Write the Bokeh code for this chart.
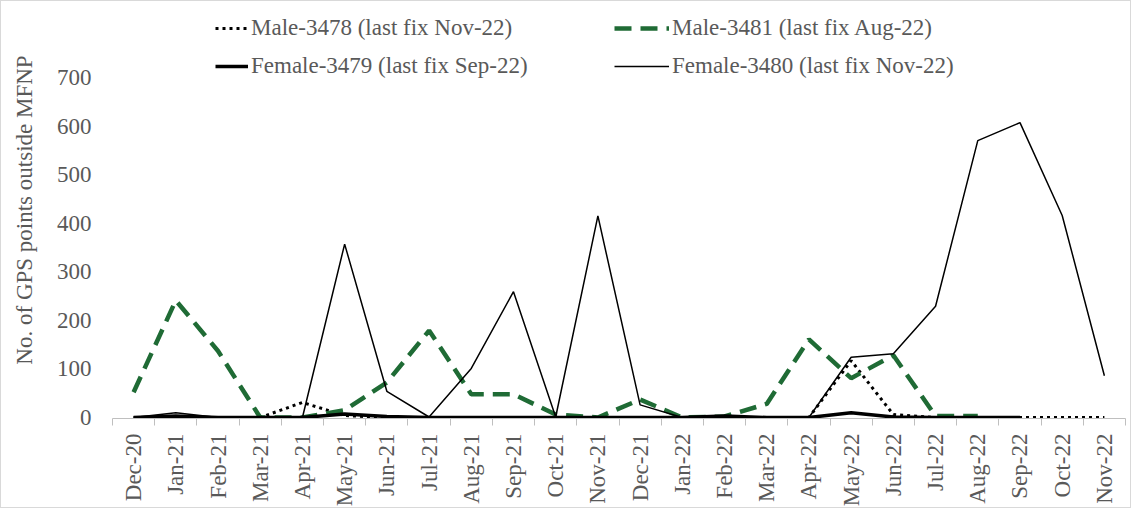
import math
from bokeh.plotting import figure
from bokeh.models import FixedTicker, Legend, LegendItem, Range1d
from bokeh.embed import file_html
from bokeh.resources import INLINE

months = ["Dec-20", "Jan-21", "Feb-21", "Mar-21", "Apr-21", "May-21", "Jun-21", "Jul-21",
          "Aug-21", "Sep-21", "Oct-21", "Nov-21", "Dec-21", "Jan-22", "Feb-22", "Mar-22",
          "Apr-22", "May-22", "Jun-22", "Jul-22", "Aug-22", "Sep-22", "Oct-22", "Nov-22"]

nan = float("nan")
male_3478 = [0, 0, 0, 0, 31, 4, 0, 0, 0, 0, 0, 0, 0, 0, 0, 0, 0, 117, 6, 0, 0, 0, 0, 0]
male_3481 = [52, 241, 137, 0, 0, 15, 72, 179, 48, 48, 6, 0, 37, 0, 2, 28, 161, 81, 128, 3, 3,
             nan, nan, nan]
female_3479 = [0, 3, 0, 0, 0, 7, 2, 0, 0, 0, 0, 0, 0, 0, 3, 0, 0, 10, 1, 0, 0, 0, nan, nan]
female_3480 = [0, 10, 0, 0, 0, 357, 54, 1, 101, 259, 1, 415, 26, 0, 2, 0, 0, 124, 131, 229, 570,
               607, 416, 86]

series_labels = ["Male-3478 (last fix Nov-22)", "Male-3481 (last fix Aug-22)",
                 "Female-3479 (last fix Sep-22)", "Female-3480 (last fix Nov-22)"]
y_ticks = [0, 100, 200, 300, 400, 500, 600, 700]
y_title = "No. of GPS points outside MFNP"

FONT = "Liberation Serif"
GRAY = "#595959"
GREEN = "#1f6b35"

W, H = 1131, 508
FRAME_L, FRAME_R_PAD = 111, 7
ZERO_Y, TOP_Y = 416, 76          # pixel rows of 0 and 700 inside the figure
frame_bottom = ZERO_Y + 1
ppu = (ZERO_Y - TOP_Y) / 700.0

x = list(range(len(months)))

p = figure(width=W, height=H, output_backend="svg", toolbar_location=None,
           x_range=Range1d(-0.5, len(months) - 0.5),
           y_range=Range1d(-1.0 / ppu, 700 + TOP_Y / ppu),
           min_border_left=FRAME_L, min_border_right=FRAME_R_PAD, min_border_top=0,
           min_border_bottom=H - frame_bottom)
p.outline_line_color = None
p.xgrid.visible = False
p.ygrid.visible = False
p.background_fill_color = "white"
p.border_fill_color = "white"
p.styles = {"border": "1px solid #d9d9d9", "box-sizing": "border-box"}

r1 = p.line(x, male_3478, line_color="black", line_width=3, line_dash="3 4")
r2 = p.line(x, male_3481, line_color=GREEN, line_width=4.5, line_dash="17 9")
r3 = p.line(x, female_3479, line_color="black", line_width=3.5)
r4 = p.line(x, female_3480, line_color="black", line_width=1.5)

xa = p.xaxis[0]
xa.ticker = FixedTicker(ticks=x, minor_ticks=[i - 0.5 for i in range(len(months) + 1)])
xa.major_label_overrides = {i: m for i, m in enumerate(months)}
xa.major_label_orientation = math.pi / 2
xa.major_tick_line_color = None
xa.major_tick_out = 0
xa.major_tick_in = 0
xa.minor_tick_line_color = "#bfbfbf"
xa.minor_tick_out = 7
xa.minor_tick_in = 0
xa.axis_line_color = "#bfbfbf"
xa.major_label_standoff = 8
xa.major_label_text_font = FONT
xa.major_label_text_font_size = "23px"
xa.major_label_text_color = GRAY

ya = p.yaxis[0]
ya.ticker = FixedTicker(ticks=y_ticks, minor_ticks=[])
ya.axis_line_color = None
ya.major_tick_line_color = None
ya.major_tick_out = 0
ya.major_tick_in = 0
ya.minor_tick_line_color = None
ya.major_label_standoff = 21
ya.major_label_text_font = FONT
ya.major_label_text_font_size = "23px"
ya.major_label_text_color = GRAY
ya.axis_label = y_title
ya.axis_label_text_font = FONT
ya.axis_label_text_font_size = "23px"
ya.axis_label_text_font_style = "normal"
ya.axis_label_text_color = GRAY
ya.axis_label_standoff = 17


def make_legend(items, loc, gw):
    lg = Legend(items=items, location=loc, orientation="vertical",
                glyph_width=gw, glyph_height=26, label_height=26, spacing=12,
                padding=0, margin=0, label_standoff=3,
                label_text_font=FONT, label_text_font_size="23px",
                label_text_color=GRAY, border_line_color=None,
                background_fill_alpha=0)
    p.add_layout(lg, "center")


make_legend([LegendItem(label=series_labels[0], renderers=[r1]),
             LegendItem(label=series_labels[2], renderers=[r3])], (103, 339), 33)
make_legend([LegendItem(label=series_labels[1], renderers=[r2]),
             LegendItem(label=series_labels[3], renderers=[r4])], (502, 339), 55)

open("out.html", "w").write(file_html(p, INLINE))
